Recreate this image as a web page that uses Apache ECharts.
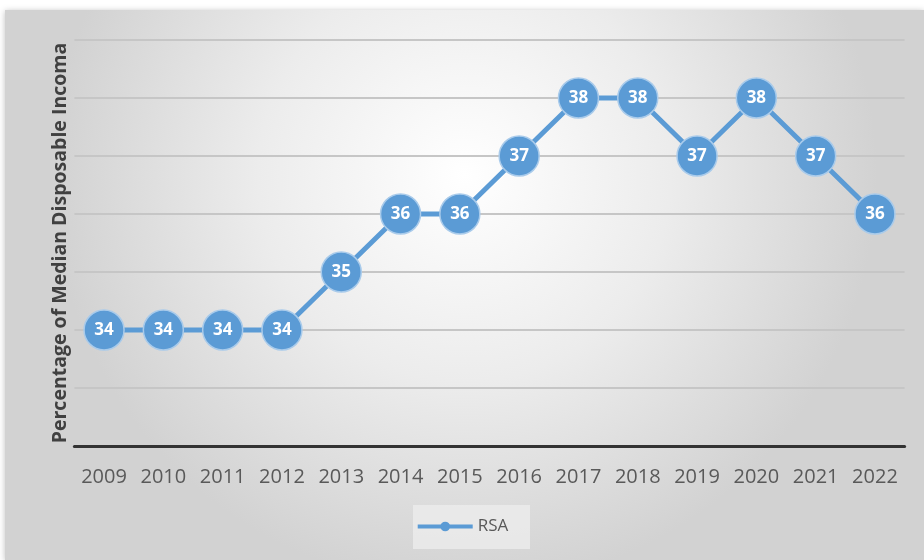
<!DOCTYPE html>
<html>
<head>
<meta charset="utf-8">
<script src="https://cdn.jsdelivr.net/npm/echarts@6/dist/echarts.min.js"></script>
<style>
  html, body { margin: 0; padding: 0; background: #ffffff; }
  #chart { width: 924px; height: 560px; }
</style>
</head>
<body>
<div id="chart"></div>
<script>
// Share of median disposable income, South Africa, by year
const years = ['2009', '2010', '2011', '2012', '2013', '2014', '2015', '2016', '2017', '2018', '2019', '2020', '2021', '2022'];
const rsaValues = [34, 34, 34, 34, 35, 36, 36, 37, 38, 38, 37, 38, 37, 36];
const seriesName = 'RSA';
const yAxisTitle = 'Percentage of Median Disposable Incoma';

const font = '"Open Sans", Lato, sans-serif';
const chart = echarts.init(document.getElementById('chart'), null, { renderer: 'canvas' });

chart.setOption({
  animation: false,
  graphic: [
    {
      type: 'rect',
      z: -10,
      shape: { x: 5, y: 10, width: 919, height: 550 },
      style: {
        fill: new echarts.graphic.RadialGradient(0.5, 0.3, 0.75, [
          { offset: 0, color: '#ffffff' },
          { offset: 0.5, color: '#ececec' },
          { offset: 1, color: '#d2d2d2' }
        ]),
        shadowBlur: 6,
        shadowColor: 'rgba(0,0,0,0.25)',
        shadowOffsetY: 1
      }
    },
    {
      type: 'rect',
      z: -5,
      shape: { x: 413, y: 505, width: 117, height: 44 },
      style: { fill: 'rgba(238,238,238,0.75)' }
    }
  ],
  grid: { left: 74.4, right: 19.4, top: 40, bottom: 114 },
  legend: {
    bottom: 20,
    left: 'center',
    itemWidth: 55,
    itemHeight: 12,
    itemGap: 4,
    lineStyle: { width: 4 },
    itemStyle: { color: '#5b9bd5', borderColor: '#5b9bd5', borderWidth: 0 },
    textStyle: { fontFamily: font, fontSize: 17, color: '#595959' },
    data: [seriesName]
  },
  xAxis: {
    type: 'category',
    data: years,
    boundaryGap: true,
    axisLine: { lineStyle: { color: '#333333', width: 3 } },
    axisTick: { show: false },
    axisLabel: { interval: 0, fontFamily: font, fontSize: 20, color: '#595959', margin: 21 }
  },
  yAxis: {
    type: 'value',
    min: 32,
    max: 39,
    interval: 1,
    name: yAxisTitle,
    nameLocation: 'middle',
    nameGap: 4,
    nameTextStyle: { fontFamily: font, fontSize: 19.5, fontWeight: 'bold', color: '#404040' },
    axisLine: { show: false },
    axisTick: { show: false },
    axisLabel: { show: false },
    splitLine: { lineStyle: { color: '#c6c6c6', width: 2 } }
  },
  series: [
    {
      name: seriesName,
      type: 'line',
      data: rsaValues,
      symbol: 'circle',
      symbolSize: 40,
      showAllSymbol: true,
      lineStyle: { color: '#5b9bd5', width: 5 },
      itemStyle: { color: '#5b9bd5', borderColor: '#a9cbeb', borderWidth: 1.5 },
      label: {
        show: true,
        position: 'inside',
        fontFamily: font,
        fontSize: 17,
        fontWeight: 'bold',
        color: '#ffffff'
      },
      labelLayout: { hideOverlap: false }
    }
  ]
});
</script>
</body>
</html>
